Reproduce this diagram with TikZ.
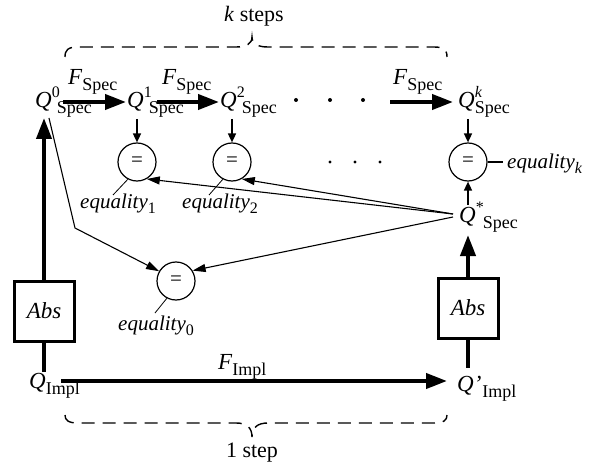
\documentclass[tikz,border=0pt]{standalone}
\usepackage{fontspec}
\setmainfont{Liberation Serif}
\usetikzlibrary{arrows.meta}
\newcommand{\dsub}[1]{\raisebox{-6pt}{\fontsize{18}{18}\selectfont #1}}
\newcommand{\dsup}[1]{\raisebox{10pt}{\fontsize{16}{16}\selectfont #1}}
\newcommand{\esub}[1]{\raisebox{-5pt}{\fontsize{16}{16}\selectfont #1}}
\tikzset{
  lbl/.style={inner sep=0pt, anchor=base west, font=\fontsize{23}{27}\selectfont},
  elbl/.style={inner sep=0pt, anchor=base west, font=\fontsize{21}{25}\selectfont},
  clbl/.style={inner sep=0pt, anchor=base, font=\fontsize{22}{26}\selectfont},
  eqc/.style={circle, draw, line width=1.2pt, minimum size=38pt, inner sep=0pt, font=\fontsize{21}{25}\selectfont},
  absbox/.style={draw, line width=3pt, minimum width=60pt, minimum height=60pt, inner sep=0pt, font=\fontsize{23}{27}\selectfont\itshape},
  bigarrow/.style={line width=4pt, -{Triangle[length=21pt,width=15pt]}},
  thickline/.style={line width=4pt},
  smallarrow/.style={line width=1.6pt, -{Triangle[length=9pt,width=8pt]}},
  thinarrow/.style={line width=1.1pt, -{Triangle[length=13pt,width=8pt]}},
  tag/.style={line width=0.8pt},
  tagk/.style={line width=1.4pt},
  bracestyle/.style={line width=1.4pt, dash pattern=on 13pt off 8pt},
  dotmark/.style={fill=black}
}
\begin{document}
\begin{tikzpicture}[x=1pt,y=-1pt]
\useasboundingbox (0,0) rectangle (596,465);
% Q nodes
\node[lbl] (q0) at (35,108) {\textit{Q}\dsup{0}\kern-3pt\dsub{Spec}};
\node[lbl] (q1) at (127,108) {\textit{Q}\dsup{1}\kern-3pt\dsub{Spec}};
\node[lbl] (q2) at (220,108) {\textit{Q}\dsup{2}\kern-3pt\dsub{Spec}};
\node[lbl] (qk) at (458,108) {\textit{Q}\rlap{\dsup{\textit{k}}}\dsub{Spec}};
\node[lbl] (qs) at (459,222) {\textit{Q}\dsup{*}\kern-1pt\dsub{Spec}};
\node[lbl] (qi) at (29,388) {\textit{Q}\dsub{Impl}};
\node[lbl] (qpi) at (457,391) {\textit{Q’}\kern1pt\dsub{Impl}};
% F labels
\node[lbl] (f1) at (68,85) {\textit{F}\dsub{Spec}};
\node[lbl] (f2) at (162,85) {\textit{F}\dsub{Spec}};
\node[lbl] (f3) at (393,85) {\textit{F}\dsub{Spec}};
\node[lbl] (fi) at (218,369) {\textit{F}\dsub{Impl}};
% step labels
\node[clbl] (ks) at (254,22) {\textit{k} steps};
\node[clbl] (os) at (252,457) {1 step};
% circles
\node[eqc] (c1) at (137,162) {=};
\node[eqc] (c2) at (232,162) {=};
\node[eqc] (ck) at (468,162) {=};
\node[eqc] (c0) at (176,281) {=};
% equality labels
\node[elbl] (e1) at (80,208) {\textit{equality}\esub{1}};
\node[elbl] (e2) at (182,208) {\textit{equality}\esub{2}};
\node[elbl] (e0) at (118,330) {\textit{equality}\esub{0}};
\node[elbl] (ek) at (507,168) {\textit{equality}\esub{\textit{k}}};
% Abs boxes
\node[absbox] (absl) at (44,311) {Abs};
\node[absbox] (absr) at (468,308) {Abs};
% coordinates
\coordinate (a0s) at (63,102); \coordinate (a0e) at (126,102);
\coordinate (a1s) at (157,102); \coordinate (a1e) at (219,102);
\coordinate (a2s) at (390,102); \coordinate (a2e) at (453,102);
\coordinate (q0b) at (44,118);
\coordinate (qib) at (44,372);
\coordinate (q1d) at (137,119);
\coordinate (q2d) at (232,119);
\coordinate (qkd) at (468,119);
\coordinate (qsu) at (468,205);
\coordinate (qsd) at (468,235);
\coordinate (qpt) at (468,368);
\coordinate (fis) at (61,381); \coordinate (fie) at (447,381);
\coordinate (qsl) at (453,214);
\coordinate (qsl2) at (453,217);
\coordinate (q0l) at (49,118);
\coordinate (bend) at (75,228);
\coordinate (t1) at (113,195);
\coordinate (t2) at (209,195);
\coordinate (t0) at (155,313);
\coordinate (tk) at (503,162);
% horizontal arrows
\draw[bigarrow] (a0s) -- (a0e);
\draw[bigarrow] (a1s) -- (a1e);
\draw[bigarrow] (a2s) -- (a2e);
\draw[bigarrow] (fis) -- (fie);
% dots
\foreach \x in {296,330,363} \fill[dotmark] (\x,100) circle (2pt);
\foreach \x in {330,355,380} \fill[dotmark] (\x,162) circle (1.6pt);
% vertical
\draw[bigarrow] (absl.north) -- (q0b);
\draw[thickline] (absl.south) -- (qib);
\draw[bigarrow] (absr.north) -- (qsd);
\draw[thickline] (absr.south) -- (qpt);
\draw[smallarrow] (q1d) -- (c1.north);
\draw[smallarrow] (q2d) -- (c2.north);
\draw[smallarrow] (qkd) -- (ck.north);
\draw[smallarrow] (qsu) -- (ck.south);
% thin arrows
\draw[thinarrow] (qsl) -- (c1.-60);
\draw[thinarrow] (qsl) -- (c2.-60);
\draw[thinarrow] (qsl2) -- (c0.32);
\draw[thinarrow] (q0l) -- (bend) -- (c0.150);
% tags
\draw[tag] (c1.-118) -- (t1);
\draw[tag] (c2.-118) -- (t2);
\draw[tag] (c0.-118) -- (t0);
\draw[tagk] (ck.east) -- (tk);
% braces
\draw[bracestyle] (65,57) .. controls (65,50) and (68,47) .. (78,47) -- (236,47) .. controls (246,47) and (252,44) .. (252,37)
  .. controls (252,44) and (258,47) .. (268,47) -- (434,47) .. controls (444,47) and (447,50) .. (447,57);
\draw[bracestyle] (65,415) .. controls (65,420) and (68,423) .. (78,423) -- (236,423) .. controls (246,423) and (252,427) .. (252,437)
  .. controls (252,427) and (258,423) .. (268,423) -- (434,423) .. controls (444,423) and (447,420) .. (447,415);
\end{tikzpicture}
\end{document}
